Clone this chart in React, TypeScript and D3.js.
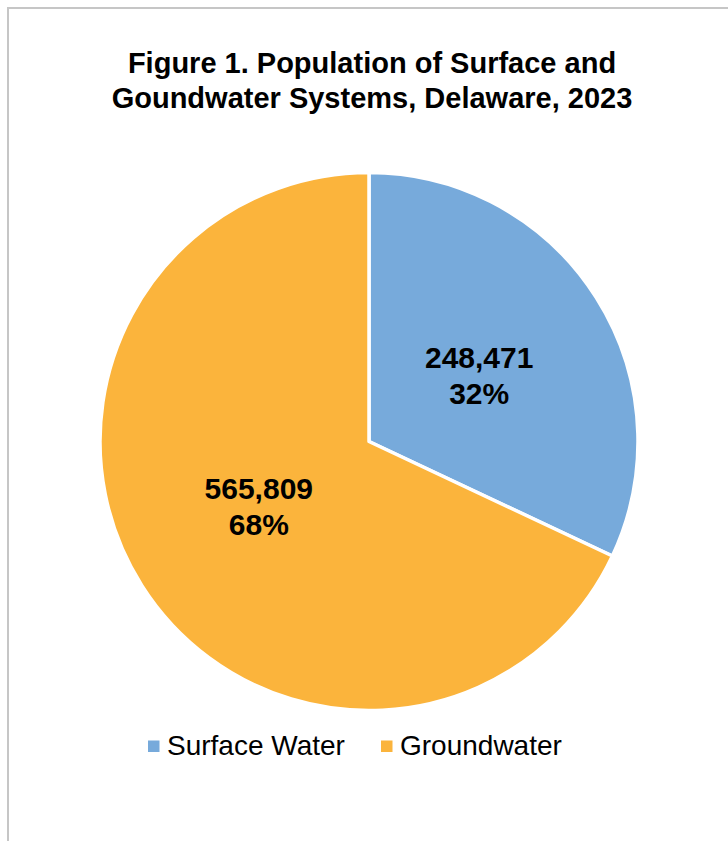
import React from "react";
import * as d3 from "d3";

const categories = ["Surface Water", "Groundwater"];
const populations = ["248,471", "565,809"];
const shares = [32, 68];
const colors = ["#77aadb", "#fbb43c"];
const titleLines = ["Figure 1. Population of Surface and", "Goundwater Systems, Delaware, 2023"];

const W = 728;
const H = 841;

export default function App() {
  const cx = 369;
  const cy = 441.5;
  const R = 269;
  const pie = d3.pie<number>().sort(null).value((d) => d);
  const arcs = pie(shares);
  const arc = d3.arc<d3.PieArcDatum<number>>().innerRadius(0).outerRadius(R);
  const labelArc = d3.arc<d3.PieArcDatum<number>>().innerRadius(122 * 2).outerRadius(0);
  const font = "'Liberation Sans', Arial, sans-serif";

  const legendX = [148, 381];

  return (
    <svg
      width={W}
      height={H}
      style={{ position: "absolute", left: 0, top: 0, display: "block", background: "#fff" }}
    >
      <rect x={0} y={0} width={W} height={H} fill="#fff" />
      <rect x={8} y={8} width={W + 20} height={H + 20} fill="none" stroke="#c6c6c6" strokeWidth={2} />
      {titleLines.map((t, i) => (
        <text
          key={i}
          x={372}
          y={73 + i * 34.5}
          textAnchor="middle"
          fontFamily={font}
          fontWeight="bold"
          fontSize={29}
          fill="#000"
        >
          {t}
        </text>
      ))}
      <g transform={`translate(${cx},${cy})`}>
        {arcs.map((a, i) => (
          <path key={i} d={arc(a) || ""} fill={colors[i]} stroke="#fff" strokeWidth={3.5} strokeLinejoin="round" />
        ))}
        {arcs.map((a, i) => {
          const [cxl, ly] = labelArc.centroid(a);
          const lx = cxl * 1.07;
          return (
            <text
              key={i}
              x={lx}
              y={ly}
              textAnchor="middle"
              fontFamily={font}
              fontWeight="bold"
              fontSize={30}
              fill="#000"
            >
              <tspan x={lx} dy={-8}>{populations[i]}</tspan>
              <tspan x={lx} dy={36}>{shares[i] + "%"}</tspan>
            </text>
          );
        })}
      </g>
      {categories.map((c, i) => (
        <g key={c}>
          <rect x={legendX[i]} y={740.5} width={11.5} height={11.5} fill={colors[i]} />
          <text x={legendX[i] + 19} y={754.5} fontFamily={font} fontSize={28} fill="#000">
            {c}
          </text>
        </g>
      ))}
    </svg>
  );
}
